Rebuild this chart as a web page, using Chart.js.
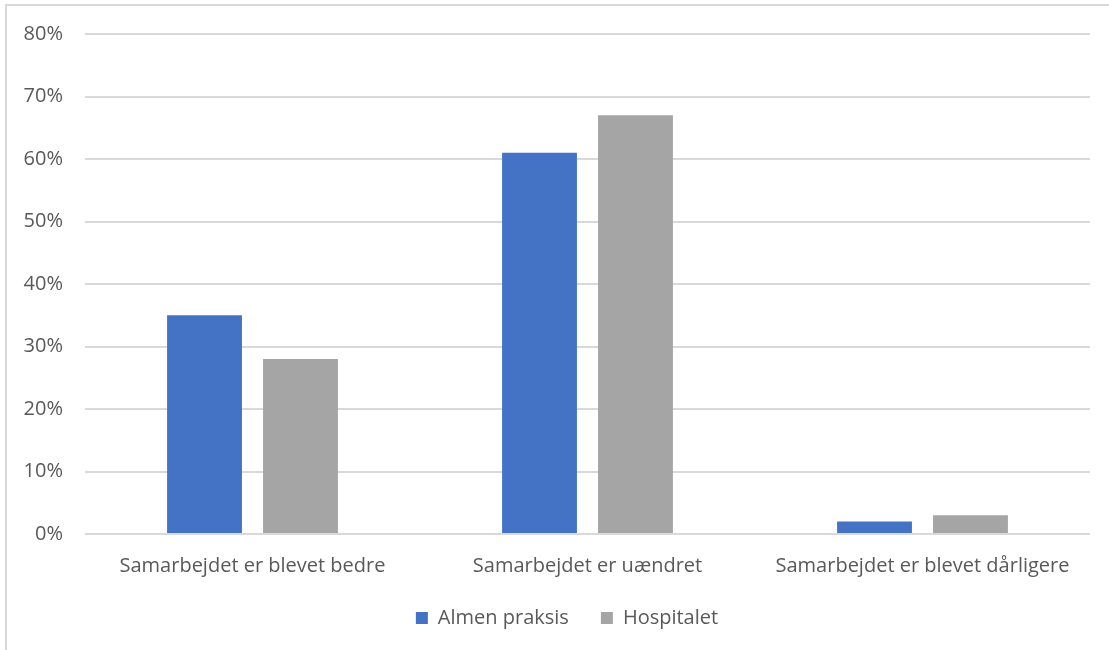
<!DOCTYPE html>
<html lang="da">
<head>
  <meta charset="UTF-8" />
  <title>Samarbejdet</title>
  <script src="https://cdn.jsdelivr.net/npm/chart.js"></script>
  <style>
    body {
      margin: 0;
      background: #fff;
      width: 1109px;
      height: 650px;
      overflow: hidden;
      position: relative;
    }

    .frame {
      position: absolute;
      left: 5px;
      top: 4px;
      width: 1200px;
      height: 700px;
      border: 2px solid #d9d9d9;
      pointer-events: none;
    }

    canvas {
      position: absolute;
      left: 0;
      top: 0;
    }
  </style>
</head>
<body>
  <canvas id="chart" width="1109" height="650"></canvas>
  <div class="frame"></div>

  <script>
    const categories = [
      'Samarbejdet er blevet bedre',
      'Samarbejdet er uændret',
      'Samarbejdet er blevet dårligere'
    ];
    const almenPraksis = [35, 61, 2];
    const hospitalet = [28, 67, 3];
    const seriesNames = ['Almen praksis', 'Hospitalet'];

    const textColor = '#595959';
    const font = { family: '"Open Sans", sans-serif', size: 20 };

    // the original legend sits a bit right of centre and closer to the axis labels
    const legendNudge = {
      id: 'legendNudge',
      afterLayout(chart) {
        const lg = chart.legend;
        lg.left += 22;
        lg.right += 22;
        lg.top -= 14;
        lg.bottom -= 14;
      }
    };

    const ctx = document.getElementById('chart').getContext('2d');

    new Chart(ctx, {
      type: 'bar',
      data: {
        labels: categories,
        datasets: [
          {
            label: seriesNames[0],
            data: almenPraksis,
            backgroundColor: '#4472C4'
          },
          {
            label: seriesNames[1],
            data: hospitalet,
            backgroundColor: '#A5A5A5'
          }
        ]
      },
      plugins: [legendNudge],
      options: {
        responsive: false,
        animation: false,
        categoryPercentage: 0.573,
        barPercentage: 0.78,
        layout: {
          padding: { left: 0, right: 19, top: 23, bottom: -2 }
        },
        plugins: {
          tooltip: { enabled: false },
          legend: {
            position: 'bottom',
            labels: {
              color: textColor,
              font: font,
              boxWidth: 12,
              boxHeight: 12,
              padding: 32
            }
          }
        },
        scales: {
          x: {
            grid: { display: false },
            border: { display: false },
            ticks: {
              color: textColor,
              font: font,
              padding: 12,
              maxRotation: 0
            }
          },
          y: {
            min: 0,
            max: 80,
            afterFit: scale => { scale.width = 85; },
            grid: { color: '#d9d9d9', lineWidth: 2, drawTicks: false },
            border: { display: false },
            ticks: {
              stepSize: 10,
              color: textColor,
              font: font,
              padding: 22,
              callback: v => v + '%'
            }
          }
        }
      }
    });
  </script>
</body>
</html>
